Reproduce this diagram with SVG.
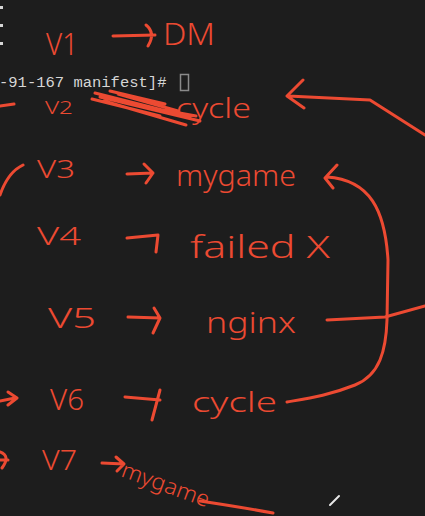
<svg xmlns="http://www.w3.org/2000/svg" width="425" height="516" viewBox="0 0 425 516">
<style>
.ink{fill:none;stroke:#ec4a32;stroke-width:3;stroke-linecap:round;stroke-linejoin:round}
.hw{fill:#ec4a32;font-family:"Noto Sans","DejaVu Sans",sans-serif;font-weight:300}
.term{fill:#d6d6d6;font-family:"Liberation Mono","DejaVu Sans Mono",monospace;font-size:15.5px}
</style>
<rect width="425" height="516" fill="#1d1d1d"/>
<g id="terminal">
<rect x="0" y="6" width="3" height="3" fill="#d6d6d6"/>
<rect x="0" y="24" width="3" height="3" fill="#d6d6d6"/>
<rect x="0" y="42" width="3" height="3" fill="#d6d6d6"/>
<text class="term" x="-1" y="87">-91-167 manifest]#</text>
<rect x="180.5" y="74.5" width="8" height="16" fill="none" stroke="#8a8a8a" stroke-width="1.5"/>
</g>
<g id="labels">
<text class="hw" x="46" y="55" font-size="32" textLength="32" lengthAdjust="spacingAndGlyphs">V1</text>
<text class="hw" x="163" y="45" font-size="32" textLength="52" lengthAdjust="spacingAndGlyphs">DM</text>
<text class="hw" x="45" y="114" font-size="19" textLength="28" lengthAdjust="spacingAndGlyphs">V2</text>
<text class="hw" x="176" y="118" font-size="28" textLength="75" lengthAdjust="spacingAndGlyphs">cycle</text>
<text class="hw" x="37" y="178" font-size="26" textLength="38" lengthAdjust="spacingAndGlyphs">V3</text>
<text class="hw" x="176" y="186" font-size="30" textLength="120" lengthAdjust="spacingAndGlyphs">mygame</text>
<text class="hw" x="37" y="245" font-size="26" textLength="44" lengthAdjust="spacingAndGlyphs">V4</text>
<text class="hw" x="190" y="258" font-size="32" textLength="140" lengthAdjust="spacingAndGlyphs">failed X</text>
<text class="hw" x="48" y="328" font-size="28" textLength="48" lengthAdjust="spacingAndGlyphs">V5</text>
<text class="hw" x="206" y="333" font-size="30" textLength="90" lengthAdjust="spacingAndGlyphs">nginx</text>
<text class="hw" x="50" y="410" font-size="30" textLength="34" lengthAdjust="spacingAndGlyphs">V6</text>
<text class="hw" x="192" y="412" font-size="28" textLength="85" lengthAdjust="spacingAndGlyphs">cycle</text>
<text class="hw" x="42" y="470" font-size="28" textLength="35" lengthAdjust="spacingAndGlyphs">V7</text>
<text class="hw" x="120" y="476" font-size="22" textLength="92" lengthAdjust="spacingAndGlyphs" transform="rotate(20 120 476)">mygame</text>
</g>
<g id="connectors">
<path class="ink" d="M113,36 L155,35 M146,25 Q156,33 148,46"/>
<path class="ink" d="M0,106 L14,104"/>
<path class="ink" d="M95,93 L190,117 M100,97 L200,121 M104,101 L186,125 M118,94 L178,111 M92,99 L160,116 M130,104 L196,116 M110,91 L165,104"/>
<path class="ink" d="M288,96 L370,100 L425,135 M303,80 L287,96 L304,108"/>
<path class="ink" d="M23,165 Q8,172 0,195"/>
<path class="ink" d="M127,174 L153,173 M144,164 L153,173 L146,183"/>
<path class="ink" d="M127,238 L158,235 L156,252"/>
<path class="ink" d="M128,317 L160,318 M154,308 L160,318 L153,333"/>
<path class="ink" d="M125,397 L160,400 M160,390 L152,420"/>
<path class="ink" d="M0,401 L15,398 M8,392 L17,398 L8,405"/>
<path class="ink" d="M102,463 L124,464 M116,457 L124,464 L117,471"/>
<path class="ink" d="M0,452 Q11,456 2,468 M0,460 L8,460"/>
<path class="ink" d="M337,165 L325,178 L333,188 M327,177 C370,180 385,210 388,260 L387,320 C386,350 380,375 355,385 C330,395 310,398 287,402"/>
<path class="ink" d="M327,320 L385,317 L425,306"/>
<path class="ink" d="M200,501 Q240,507 273,513"/>
<path d="M330,505 L339,496" stroke="#e8e8e8" stroke-width="2" stroke-linecap="round"/>
</g>
</svg>
